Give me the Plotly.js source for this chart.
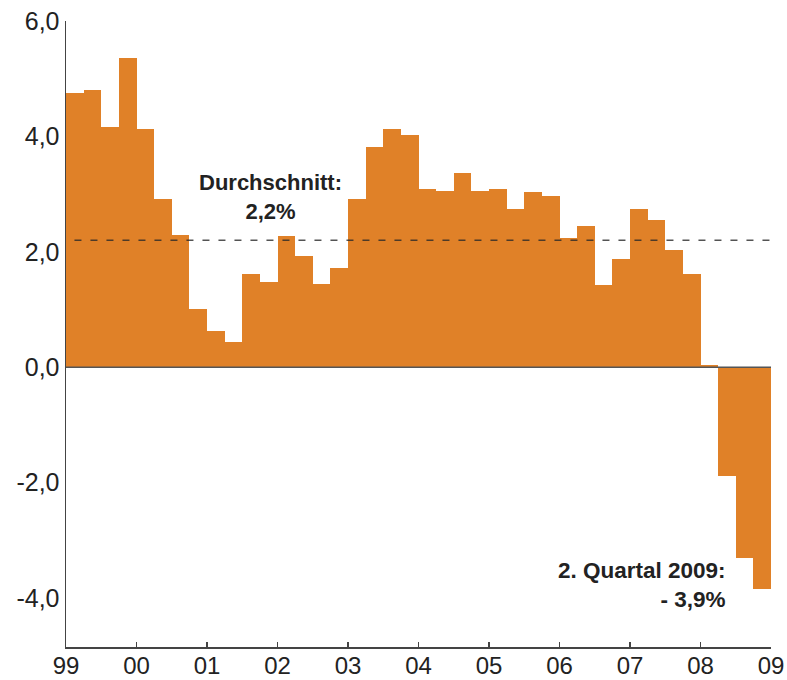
<!DOCTYPE html>
<html>
<head>
<meta charset="utf-8">
<script src="https://cdn.plot.ly/plotly-3.0.1.min.js"></script>
<style>html,body{margin:0;padding:0;background:#fff;}#chart{width:787px;height:680px;}</style>
</head>
<body>
<div id="chart"></div>
<script>
// Quarterly change (%) – 40 quarters shown between the "99" and "09" ticks
var values = [4.75, 4.81, 4.16, 5.36, 4.13, 2.92, 2.29, 1.00, 0.63, 0.43,
              1.61, 1.48, 2.27, 1.92, 1.45, 1.72, 2.92, 3.82, 4.13, 4.02,
              3.08, 3.05, 3.37, 3.05, 3.08, 2.74, 3.03, 2.97, 2.24, 2.44,
              1.42, 1.88, 2.74, 2.55, 2.03, 1.61, 0.04, -1.89, -3.30, -3.84];
var tickYears = [1999, 2000, 2001, 2002, 2003, 2004, 2005, 2006, 2007, 2008, 2009];
var tickLabels = ["99", "00", "01", "02", "03", "04", "05", "06", "07", "08", "09"];
var yTickVals = [-4, -2, 0, 2, 4, 6];
var yTickLabels = ["-4,0", "-2,0", "0,0", "2,0", "4,0", "6,0"];
var average = 2.2;
var averageLabel = "Durchschnitt:<br>2,2%";
var lastLabel = "2. Quartal 2009:<br>- 3,9%";

// position of each quarter (middle of the quarter)
var xPos = values.map(function (v, i) { return tickYears[0] + (i + 0.5) / 4; });

var trace = {
  type: "bar",
  x: xPos,
  y: values,
  width: 0.25,
  marker: { color: "#E08128", line: { width: 0 } },
  hoverinfo: "y"
};

var layout = {
  width: 787,
  height: 680,
  margin: { l: 66, r: 16, t: 21, b: 33 },
  paper_bgcolor: "#ffffff",
  plot_bgcolor: "#ffffff",
  showlegend: false,
  bargap: 0,
  font: { family: "Liberation Sans, Arial, sans-serif", color: "#222222" },
  xaxis: {
    range: [tickYears[0], tickYears[tickYears.length - 1]],
    tickmode: "array",
    tickvals: tickYears,
    ticktext: tickLabels,
    ticks: "inside",
    ticklen: 5,
    tickwidth: 1.5,
    tickcolor: "#444",
    ticklabelstandoff: -3,
    showline: true,
    linecolor: "#444",
    linewidth: 1.5,
    showgrid: false,
    zeroline: false,
    tickfont: { size: 24, color: "#222" },
    fixedrange: true
  },
  yaxis: {
    range: [-4.85, 6.0],
    tickmode: "array",
    tickvals: yTickVals,
    ticktext: yTickLabels,
    ticks: "",
    showline: true,
    linecolor: "#444",
    linewidth: 1.5,
    showgrid: false,
    zeroline: false,
    tickfont: { size: 25, color: "#222" },
    fixedrange: true
  },
  shapes: [
    {
      type: "line", xref: "x", yref: "y",
      x0: tickYears[0] + 0.12, x1: tickYears[tickYears.length - 1],
      y0: average, y1: average,
      line: { color: "rgba(40,40,40,0.8)", width: 1.5, dash: "7px,9px" },
      layer: "above"
    },
    {
      type: "line", xref: "paper", yref: "y",
      x0: 0, x1: 1, y0: 0, y1: 0,
      line: { color: "#555", width: 1.5 },
      layer: "above"
    }
  ],
  annotations: [
    {
      xref: "x", yref: "y", x: 2001.9, y: 2.95,
      text: averageLabel, showarrow: false,
      xanchor: "center", yanchor: "middle", align: "center",
      font: { size: 22, color: "#222", family: "Liberation Sans, Arial, sans-serif", weight: "bold" }
    },
    {
      xref: "x", yref: "y", x: 2008.39, y: -3.78,
      text: lastLabel, showarrow: false,
      xanchor: "right", yanchor: "middle", align: "right",
      font: { size: 22.5, color: "#222", family: "Liberation Sans, Arial, sans-serif", weight: "bold" }
    }
  ]
};

Plotly.newPlot("chart", [trace], layout, { displayModeBar: false, staticPlot: true });
</script>
</body>
</html>
